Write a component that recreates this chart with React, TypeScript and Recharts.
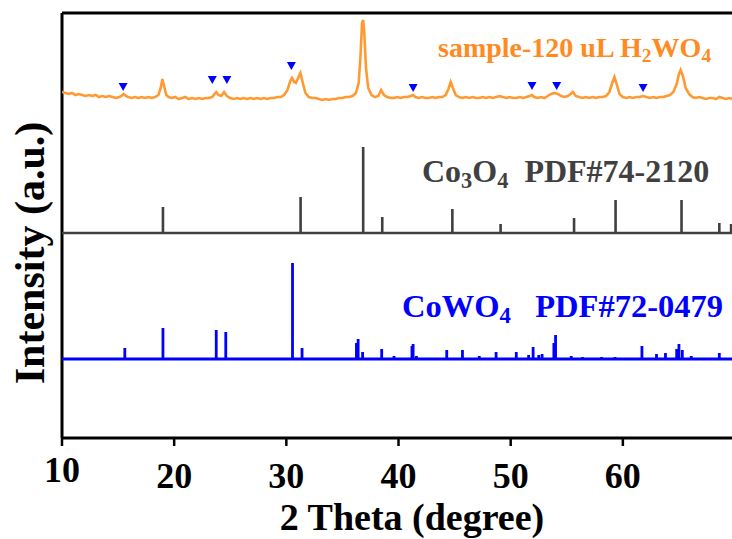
import React from 'react';
import { ComposedChart, Line, Scatter, XAxis, YAxis, ReferenceLine } from 'recharts';

// 2-theta range shown (right edge is cropped just short of 70)
const thetaRange: [number, number] = [10, 69.73];
const intensityRange: [number, number] = [0, 425];
const xTicks = [10, 20, 30, 40, 50, 60];

// measured scan, [2theta, intensity a.u.]
const sampleScan: [number, number][] = [
  [10.0, 346], [10.3, 345], [10.6, 344], [10.9, 345], [11.2, 343], [11.5, 344], [11.8, 343],
  [12.1, 342], [12.4, 343], [12.7, 342], [13.0, 343], [13.3, 341], [13.6, 342], [13.9, 341],
  [14.2, 342], [14.5, 341], [14.8, 340], [15.1, 341], [15.3, 342], [15.5, 344], [15.7, 342],
  [15.9, 341], [16.2, 340], [16.5, 341], [16.8, 340], [17.1, 341], [17.4, 340], [17.7, 341],
  [18.0, 340], [18.3, 341], [18.6, 343], [18.8, 350], [18.95, 359], [19.1, 352], [19.3, 343],
  [19.5, 341], [19.8, 340], [20.1, 341], [20.4, 339], [20.7, 340], [21.0, 341], [21.3, 339],
  [21.6, 340], [21.9, 339], [22.2, 340], [22.5, 339], [22.8, 340], [23.1, 340], [23.4, 341],
  [23.6, 344], [23.75, 346], [23.95, 343], [24.2, 342], [24.45, 346], [24.7, 342], [25.0, 340],
  [25.3, 339], [25.6, 340], [25.9, 339], [26.2, 340], [26.5, 339], [26.8, 340], [27.1, 339],
  [27.4, 340], [27.7, 339], [28.0, 340], [28.3, 339], [28.6, 340], [28.9, 340], [29.2, 341],
  [29.5, 341], [29.8, 343], [30.1, 348], [30.35, 357], [30.5, 360], [30.7, 356], [30.85, 355],
  [31.05, 360], [31.25, 365], [31.45, 356], [31.7, 345], [32.0, 341], [32.3, 340], [32.6, 340],
  [32.9, 339], [33.2, 338], [33.5, 339], [33.8, 338], [34.1, 339], [34.4, 339], [34.7, 340],
  [35.0, 340], [35.3, 341], [35.6, 341], [35.9, 342], [36.2, 345], [36.45, 355], [36.6, 380],
  [36.75, 415], [36.85, 418], [36.95, 405], [37.1, 370], [37.3, 350], [37.6, 343], [37.9, 341],
  [38.2, 342], [38.45, 348], [38.7, 343], [39.0, 341], [39.3, 340], [39.6, 340], [39.9, 341],
  [40.2, 340], [40.5, 341], [40.8, 341], [41.1, 342], [41.3, 343], [41.5, 341], [41.8, 340],
  [42.1, 341], [42.4, 340], [42.7, 340], [43.0, 341], [43.3, 340], [43.6, 341], [43.9, 341],
  [44.2, 343], [44.45, 349], [44.65, 356], [44.85, 350], [45.1, 343], [45.4, 341], [45.7, 340],
  [46.0, 341], [46.3, 340], [46.6, 341], [46.9, 340], [47.2, 340], [47.5, 341], [47.8, 340],
  [48.1, 341], [48.4, 340], [48.7, 341], [49.0, 342], [49.3, 341], [49.6, 340], [49.9, 341],
  [50.2, 340], [50.5, 340], [50.8, 341], [51.1, 340], [51.4, 341], [51.7, 342], [51.9, 343],
  [52.1, 341], [52.4, 340], [52.7, 341], [53.0, 340], [53.3, 342], [53.6, 344], [53.9, 345],
  [54.2, 344], [54.5, 342], [54.8, 341], [55.1, 342], [55.35, 344], [55.55, 346], [55.8, 342],
  [56.1, 341], [56.4, 340], [56.7, 341], [57.0, 340], [57.3, 341], [57.6, 340], [57.9, 341],
  [58.2, 341], [58.5, 342], [58.8, 346], [59.05, 355], [59.25, 361], [59.45, 354], [59.7, 344],
  [60.0, 341], [60.3, 340], [60.6, 341], [60.9, 340], [61.2, 341], [61.5, 341], [61.8, 342],
  [62.1, 341], [62.4, 340], [62.7, 341], [63.0, 340], [63.3, 341], [63.6, 341], [63.9, 342],
  [64.2, 343], [64.5, 346], [64.8, 354], [65.0, 364], [65.15, 368], [65.35, 362], [65.6, 350],
  [65.9, 344], [66.2, 341], [66.5, 340], [66.8, 341], [67.1, 340], [67.4, 339], [67.7, 340],
  [68.0, 340], [68.3, 339], [68.6, 341], [68.9, 340], [69.2, 339], [69.5, 340], [69.73, 339],
];

// CoWO4 phase markers on the sample scan
const markerTheta = [15.45, 23.4, 24.7, 30.45, 41.3, 51.9, 54.1, 61.8];
const markerLevel = [351, 358, 358, 372, 350, 352, 352, 350];

// Co3O4 PDF#74-2120 stick pattern
const co3o4Base = 205;
const co3o4Theta = [19.0, 31.27, 36.85, 38.55, 44.8, 49.1, 55.65, 59.35, 65.23, 68.6, 69.65];
const co3o4Height = [26, 36, 86, 16, 24, 9, 15, 33, 33, 10, 9];

// CoWO4 PDF#72-0479 stick pattern
const cowo4Base = 79;
const cowo4Theta = [
  15.6, 19.0, 23.75, 24.6, 30.55, 31.4, 36.25, 36.4, 36.8, 38.5, 39.6, 41.2, 41.3, 41.6,
  44.3, 45.7, 47.2, 48.7, 50.5, 51.6, 52.0, 52.5, 52.8, 53.85, 54.0, 55.4, 56.4, 58.1, 59.3,
  61.7, 63.0, 63.8, 64.8, 65.0, 65.3, 66.1, 68.6,
];
const cowo4Height = [
  11, 31, 29, 27, 96, 11, 16, 20, 7, 10, 3, 13, 15, 3,
  9, 9, 3, 7, 7, 4, 12, 4, 5, 16, 24, 3, 2, 2, 2,
  13, 5, 6, 10, 15, 9, 3, 6,
];

const serif = "'Liberation Serif', 'Times New Roman', serif";

function sticks(theta: number[], height: number[], base: number) {
  const pts = [{ x: thetaRange[0], y: base }];
  theta.forEach((t, i) => {
    pts.push({ x: t, y: base }, { x: t, y: base + height[i] }, { x: t, y: base });
  });
  pts.push({ x: thetaRange[1], y: base });
  return pts;
}

const scanData = sampleScan.map(([x, y]) => ({ x, y }));
const markerData = markerTheta.map((x, i) => ({ x, y: markerLevel[i] }));
const co3o4Data = sticks(co3o4Theta, co3o4Height, co3o4Base);
const cowo4Data = sticks(cowo4Theta, cowo4Height, cowo4Base);

const Triangle = (props: any) => {
  const { cx, cy } = props;
  return <path d={`M${cx - 4.5},${cy - 4}L${cx + 4.5},${cy - 4}L${cx},${cy + 4}Z`} fill="#0000FF" />;
};

const ThetaTick = (props: any) => {
  const { x, y, payload } = props;
  const first = payload.value === 10;
  return (
    <text x={x} y={y + (first ? 34 : 40)} textAnchor="middle" fontFamily={serif} fontWeight="bold" fontSize={36} fill="#000">
      {payload.value}
    </text>
  );
};

const Sub = ({ children }: { children: React.ReactNode }) => (
  <span style={{ fontSize: '0.7em', position: 'relative', top: '0.28em' }}>{children}</span>
);

const label: React.CSSProperties = {
  position: 'absolute',
  fontFamily: serif,
  fontWeight: 'bold',
  lineHeight: 1,
  whiteSpace: 'pre',
};

export default function App() {
  return (
    <div style={{ position: 'absolute', left: 0, top: 0, width: 732, height: 539, background: '#fff', overflow: 'hidden' }}>
      <ComposedChart width={732} height={539} margin={{ top: 13, right: 0, bottom: 0, left: 62 }}>
        <XAxis
          type="number"
          dataKey="x"
          domain={thetaRange}
          allowDataOverflow
          ticks={xTicks}
          tickSize={8}
          height={101}
          axisLine={{ stroke: '#000', strokeWidth: 3 }}
          tickLine={{ stroke: '#000', strokeWidth: 2.5 }}
          tick={<ThetaTick />}
        />
        <YAxis type="number" domain={intensityRange} allowDataOverflow hide />
        <ReferenceLine y={intensityRange[1]} stroke="#000" strokeWidth={3} />
        <ReferenceLine x={thetaRange[0]} stroke="#000" strokeWidth={3} />
        <Line data={cowo4Data} dataKey="y" type="linear" stroke="#0000FF" strokeWidth={2.8} dot={false} isAnimationActive={false} />
        <Line data={co3o4Data} dataKey="y" type="linear" stroke="#404040" strokeWidth={2.6} dot={false} isAnimationActive={false} />
        <Line data={scanData} dataKey="y" type="linear" stroke="#FF9A33" strokeWidth={2.6} dot={false} isAnimationActive={false} />
        <Scatter data={markerData} dataKey="y" shape={<Triangle />} isAnimationActive={false} />
      </ComposedChart>

      <div style={{ ...label, left: 438, top: 34, fontSize: 28, color: '#FF8A1F' }}>
        sample-120 uL H<Sub>2</Sub>WO<Sub>4</Sub>
      </div>
      <div style={{ ...label, left: 422, top: 155, fontSize: 32, color: '#404040' }}>
        Co<Sub>3</Sub>O<Sub>4</Sub>{'  '}PDF#74-2120
      </div>
      <div style={{ ...label, left: 402, top: 290, fontSize: 32.5, color: '#0000FF' }}>
        CoWO<Sub>4</Sub>{'   '}PDF#72-0479
      </div>
      <div style={{ ...label, left: 412, top: 498, fontSize: 38, color: '#000', transform: 'translateX(-50%)' }}>
        2 Theta (degree)
      </div>
      <div
        style={{
          ...label,
          left: 30,
          top: 253,
          fontSize: 42,
          color: '#000',
          transform: 'translate(-50%, -50%) rotate(-90deg)',
        }}
      >
        Intensity (a.u.)
      </div>
    </div>
  );
}
